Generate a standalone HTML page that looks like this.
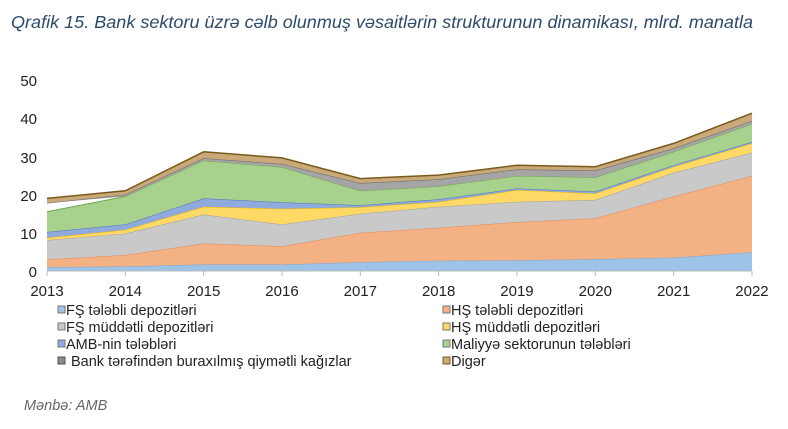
<!DOCTYPE html>
<html><head><meta charset="utf-8"><style>
body{margin:0;background:#fff;width:788px;height:424px;overflow:hidden;font-family:"Liberation Sans",sans-serif}
</style></head><body>
<svg id="s" width="788" height="424" xmlns="http://www.w3.org/2000/svg" font-family="Liberation Sans, sans-serif">
<text x="11" y="28" font-size="17.5" font-style="italic" fill="#2e4a6b" textLength="742" lengthAdjust="spacingAndGlyphs">Qrafik 15. Bank sektoru üzrə cəlb olunmuş vəsaitlərin strukturunun dinamikası, mlrd. manatla</text>
<g font-size="15" fill="#222" text-anchor="end">
<text x="37" y="86">50</text><text x="37" y="124">40</text><text x="37" y="163">30</text><text x="37" y="201">20</text><text x="37" y="239">10</text><text x="37" y="277">0</text>
</g>
<g id="areas"></g>
<line x1="47" y1="271" x2="752" y2="271" stroke="#bbb"/>
<g id="ticks" stroke="#bbb"></g>
<g id="xl" font-size="15" fill="#222" text-anchor="middle"></g>
<g font-size="14.5" fill="#222">
<rect x="58" y="306" width="7" height="7" fill="#9dc3e6" stroke="#777"/><text x="66" y="315">FŞ tələbli depozitləri</text>
<rect x="58" y="323" width="7" height="7" fill="#c9c9c9" stroke="#777"/><text x="66" y="332">FŞ müddətli depozitləri</text>
<rect x="58" y="340" width="7" height="7" fill="#8faadc" stroke="#777"/><text x="66" y="349">AMB-nin tələbləri</text>
<rect x="58" y="357" width="7" height="7" fill="#8a8a8a" stroke="#555"/><text x="71" y="366">Bank tərəfindən buraxılmış qiymətli kağızlar</text>
<rect x="443" y="306" width="7" height="7" fill="#f4b183" stroke="#777"/><text x="451" y="315">HŞ tələbli depozitləri</text>
<rect x="443" y="323" width="7" height="7" fill="#ffd966" stroke="#777"/><text x="451" y="332">HŞ müddətli depozitləri</text>
<rect x="443" y="340" width="7" height="7" fill="#a9d18e" stroke="#777"/><text x="451" y="349">Maliyyə sektorunun tələbləri</text>
<rect x="443" y="357" width="7" height="7" fill="#c9a97a" stroke="#7a5a1a"/><text x="451" y="366">Digər</text>
</g>
<text x="24" y="410" font-size="14.5" font-style="italic" fill="#666">Mənbə: AMB</text>
</svg>
<script>
var V=[
[1.0,3.0,8.1,8.7,10.2,15.5,17.8,19.0],
[1.2,4.2,9.8,10.8,12.2,19.5,20.0,21.0],
[1.7,7.2,14.8,16.8,19.0,28.9,29.5,31.2],
[1.7,6.5,12.2,16.3,18.0,27.2,28.0,29.6],
[2.3,10.0,15.0,16.7,17.2,21.0,23.0,24.2],
[2.7,11.3,16.8,18.1,18.8,22.2,24.0,25.1],
[2.8,12.8,18.1,21.2,21.6,24.9,26.6,27.7],
[3.1,13.8,18.6,20.3,20.8,24.5,26.3,27.3],
[3.5,19.5,25.7,27.3,27.7,31.2,32.1,33.4],
[4.9,24.9,31.0,33.4,33.8,38.5,39.3,41.3]];
var C=[["#9dc3e6","#7ea6d6"],["#f4b183","#e08a5a"],["#c9c9c9","#a0a0a0"],["#ffd966","#f2b800"],["#8faadc","#4f71be"],["#a9d18e","#6fa84f"],["#a5a5a5","#666"],["#c9a97a","#7a5a1a"]];
function X(i){return 47+i*78.33}function Y(v){return 271-v*3.82}
var g="";
for(var k=0;k<8;k++){var up=[],dn=[];
for(var i=0;i<10;i++){up.push(X(i).toFixed(1)+","+Y(V[i][k]).toFixed(1));var lo=k?V[i][k-1]:0;if(k==6&&i==0)lo=17.8;dn.unshift(X(i).toFixed(1)+","+Y(lo).toFixed(1));}
g+='<polygon points="'+up.concat(dn).join(" ")+'" fill="'+C[k][0]+'"/>';
g+='<polyline points="'+up.join(" ")+'" fill="none" stroke="'+C[k][1]+'" stroke-width="'+(k==7?1.5:1)+'"/>';}
document.getElementById("areas").innerHTML=g;
var t="",l="";for(var i=0;i<10;i++){t+='<line x1="'+X(i)+'" y1="271" x2="'+X(i)+'" y2="276"/>';l+='<text x="'+X(i)+'" y="296">'+(2013+i)+'</text>';}
document.getElementById("ticks").innerHTML=t;document.getElementById("xl").innerHTML=l;
</script>
</body></html>
